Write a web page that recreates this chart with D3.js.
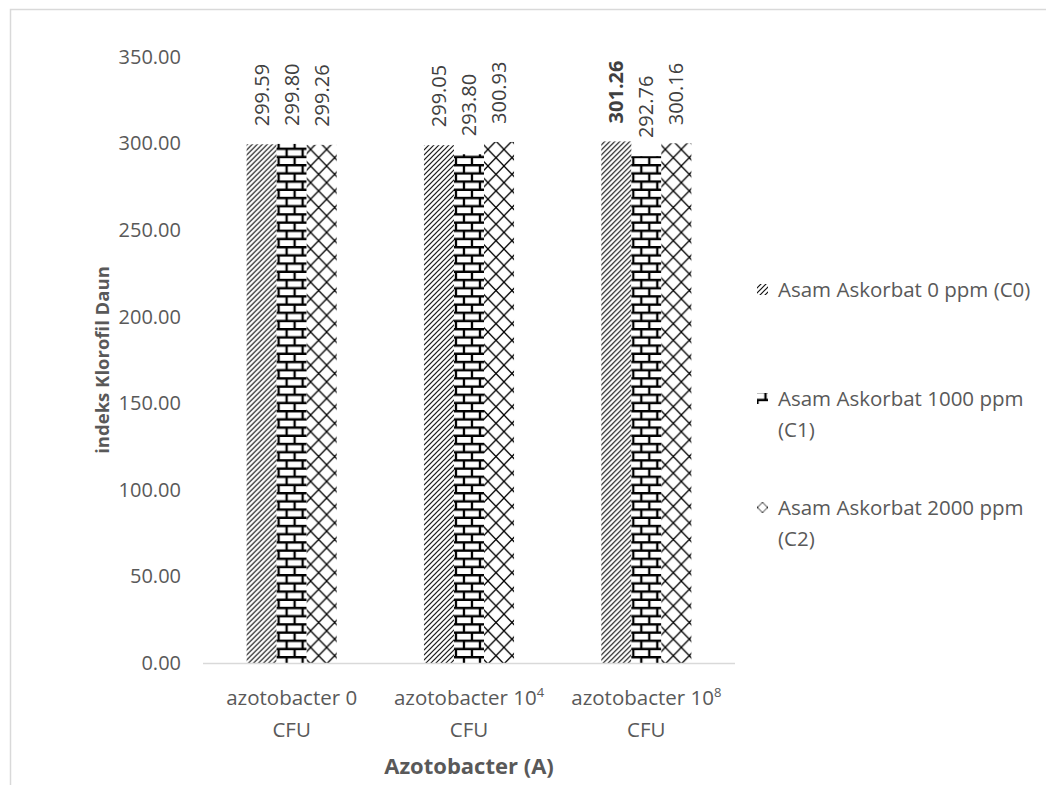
<!DOCTYPE html>
<html>
<head>
<meta charset="utf-8">
<script src="https://cdn.jsdelivr.net/npm/d3@7"></script>
<style>
  html, body { margin: 0; padding: 0; background: #fff; }
  svg { display: block; font-family: "Open Sans", "Noto Sans", sans-serif; }
</style>
</head>
<body>
<svg id="chart" width="1046" height="785"></svg>
<script>
// Leaf chlorophyll index by Azotobacter dose and ascorbic acid concentration
const categories = ["azotobacter 0", "azotobacter 10^4", "azotobacter 10^8"];
const categoryLines = [["azotobacter 0", "CFU"], ["azotobacter 10|4", "CFU"], ["azotobacter 10|8", "CFU"]];
const seriesNames = ["Asam Askorbat 0 ppm (C0)", "Asam Askorbat 1000 ppm (C1)", "Asam Askorbat 2000 ppm (C2)"];
const legendLines = [["Asam Askorbat 0 ppm (C0)"], ["Asam Askorbat 1000 ppm", "(C1)"], ["Asam Askorbat 2000 ppm", "(C2)"]];
const c0Values = [299.59, 299.05, 301.26];
const c1Values = [299.80, 293.80, 292.76];
const c2Values = [299.26, 300.93, 300.16];
const boldLabel = [[false, false, false], [false, false, false], [true, false, false]]; // [category][series]
const yTicks = [0, 50, 100, 150, 200, 250, 300, 350];

const seriesValues = [c0Values, c1Values, c2Values];

const svg = d3.select("#chart");
const plot = { left: 203, right: 735, top: 57, bottom: 663 };

// Frame (left and top edges)
svg.append("path")
  .attr("d", "M10.5,785 L10.5,9.5 L1046,9.5")
  .attr("fill", "none").attr("stroke", "#d9d9d9").attr("stroke-width", 1.5);

// Fill patterns: wide upward diagonal, horizontal brick, outlined diamond
const defs = svg.append("defs");
function makePatterns(suffix, transforms) {
  const pDiag = defs.append("pattern").attr("id", "pat-diag" + suffix)
    .attr("patternUnits", "userSpaceOnUse").attr("width", 5).attr("height", 5)
    .attr("patternTransform", transforms[0]);
  pDiag.append("rect").attr("width", 5).attr("height", 5).attr("fill", "#fff");
  pDiag.append("path").attr("d", "M-1,6 L6,-1 M-1,1 L1,-1 M4,6 L6,4")
    .attr("stroke", "#111").attr("stroke-width", 1.2);

  const pBrick = defs.append("pattern").attr("id", "pat-brick" + suffix)
    .attr("patternUnits", "userSpaceOnUse").attr("width", 16).attr("height", 16.4)
    .attr("patternTransform", transforms[1]);
  pBrick.append("rect").attr("width", 16).attr("height", 16.4).attr("fill", "#fff");
  pBrick.append("path")
    .attr("d", "M0,1.2 H16 M0,9.4 H16 M8,1.2 V9.4 M0,9.4 V17.6 M16,9.4 V17.6")
    .attr("stroke", "#000").attr("stroke-width", 2.3);

  const pDiamond = defs.append("pattern").attr("id", "pat-diamond" + suffix)
    .attr("patternUnits", "userSpaceOnUse").attr("width", 16).attr("height", 16.6)
    .attr("patternTransform", transforms[2]);
  pDiamond.append("rect").attr("width", 16).attr("height", 16.6).attr("fill", "#fff");
  pDiamond.append("path").attr("d", "M0,0 L16,16.6 M16,0 L0,16.6")
    .attr("stroke", "#000").attr("stroke-width", 1.3);
  return ["pat-diag" + suffix, "pat-brick" + suffix, "pat-diamond" + suffix];
}
const barPatterns = makePatterns("", ["translate(0,0)", "translate(0,0)", "translate(0,0)"]);
const legendPatterns = makePatterns("-key", [
  "translate(0,0)",
  "translate(757.5,390.6)",
  "translate(757.5,497.1) scale(0.625)"
]);

// Scales
const x0 = d3.scaleBand().domain(categories).range([plot.left, plot.right]).padding(0);
const groupFrac = 0.508;
const x1 = d3.scaleBand().domain(seriesNames)
  .range([0, x0.bandwidth() * groupFrac]).padding(0);
const y = d3.scaleLinear().domain([0, 350]).range([plot.bottom, plot.top]);

// Y axis tick labels
const yAxis = d3.axisLeft(y).tickValues(yTicks).tickSize(0).tickPadding(0)
  .tickFormat(d3.format(".2f"));
const yg = svg.append("g").attr("transform", `translate(${181},0)`).call(yAxis);
yg.select(".domain").remove();
yg.selectAll("text").attr("fill", "#595959").attr("font-size", 20).attr("font-family", "Open Sans");

// Bars
const groups = svg.append("g").selectAll("g").data(categories).join("g")
  .attr("transform", d => `translate(${x0(d) + x0.bandwidth() * (1 - groupFrac) / 2},0)`);

groups.each(function(cat, ci) {
  const g = d3.select(this);
  const rows = seriesNames.map((s, si) => ({ s, si, v: seriesValues[si][ci], bold: boldLabel[ci][si] }));
  g.selectAll("rect").data(rows).join("rect")
    .attr("x", d => x1(d.s))
    .attr("y", d => y(d.v))
    .attr("width", x1.bandwidth())
    .attr("height", d => y(0) - y(d.v))
    .attr("fill", d => `url(#${barPatterns[d.si]})`);
  g.selectAll("text").data(rows).join("text")
    .attr("transform", d => `translate(${x1(d.s) + x1.bandwidth() / 2},${y(d.v) - 18}) rotate(-90)`)
    .attr("dy", "0.35em")
    .attr("text-anchor", "start")
    .attr("font-size", 20)
    .attr("font-weight", d => d.bold ? "bold" : "normal")
    .attr("fill", "#404040")
    .text(d => d.v.toFixed(2));
});

// X axis line
svg.append("line")
  .attr("x1", plot.left).attr("x2", plot.right)
  .attr("y1", plot.bottom + 0.5).attr("y2", plot.bottom + 0.5)
  .attr("stroke", "#d9d9d9").attr("stroke-width", 1.5);

// Category labels (two lines, with superscript exponent)
categories.forEach((cat, ci) => {
  const cx = x0(cat) + x0.bandwidth() / 2;
  const lines = categoryLines[ci];
  lines.forEach((ln, li) => {
    const t = svg.append("text")
      .attr("x", cx).attr("y", 705 + li * 32)
      .attr("text-anchor", "middle").attr("font-size", 20.5).attr("fill", "#595959");
    const parts = ln.split("|");
    t.append("tspan").text(parts[0]);
    if (parts.length > 1) {
      t.append("tspan").attr("dy", -8).attr("font-size", 13).text(parts[1]);
    }
  });
});

// Axis titles
svg.append("text")
  .attr("x", (plot.left + plot.right) / 2).attr("y", 774)
  .attr("text-anchor", "middle").attr("font-size", 22).attr("font-weight", "bold")
  .attr("fill", "#595959").text("Azotobacter (A)");

svg.append("text")
  .attr("transform", `translate(${109},${(plot.top + plot.bottom) / 2}) rotate(-90)`)
  .attr("text-anchor", "middle").attr("font-size", 18.5).attr("font-weight", "bold")
  .attr("fill", "#595959").text("indeks Klorofil Daun");

// Legend
const legend = svg.append("g");
seriesNames.forEach((s, si) => {
  const yy = 290 + si * 109;
  legend.append("rect")
    .attr("x", 757).attr("y", yy - 6).attr("width", 11).attr("height", 11)
    .attr("fill", `url(#${legendPatterns[si]})`);
  legendLines[si].forEach((ln, li) => {
    legend.append("text")
      .attr("x", 778).attr("y", yy + li * 31).attr("dy", "0.35em")
      .attr("font-size", 20.5).attr("fill", "#595959").text(ln);
  });
});
</script>
</body>
</html>
